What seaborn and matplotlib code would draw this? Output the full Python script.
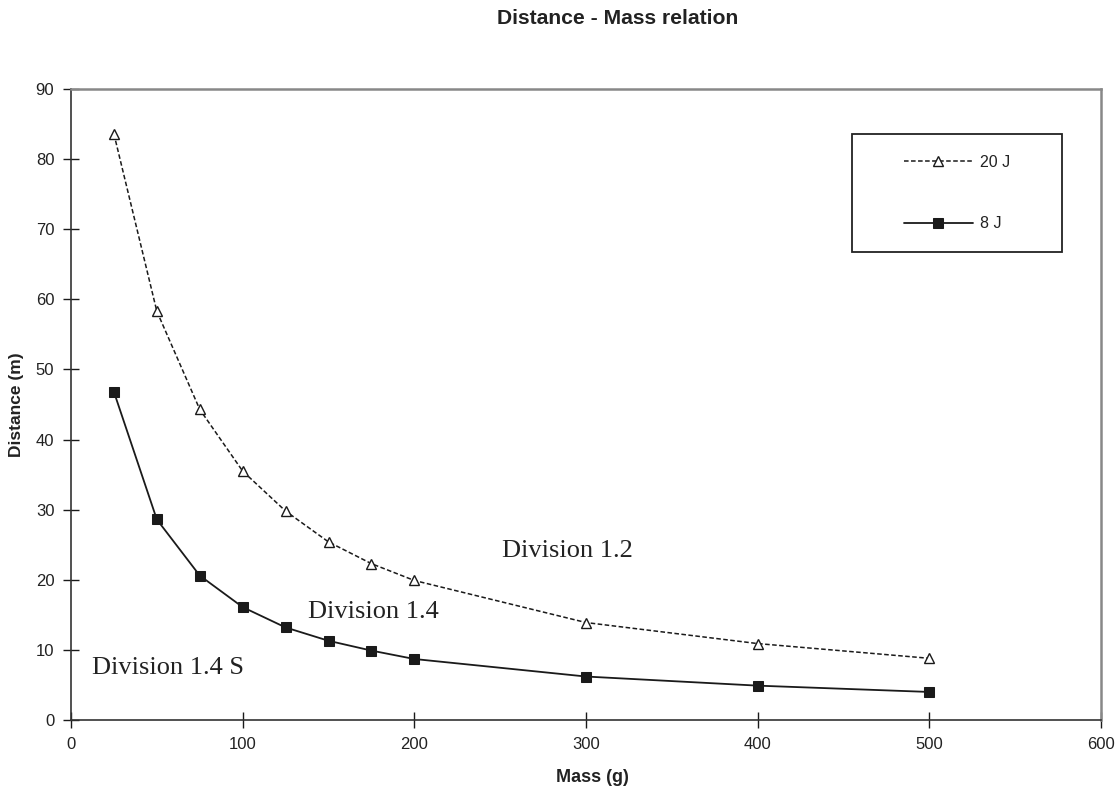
import matplotlib
matplotlib.use("Agg")
import matplotlib.pyplot as plt
import seaborn as sns
import pandas as pd
from matplotlib.patches import Rectangle

mass = [25, 50, 75, 100, 125, 150, 175, 200, 300, 400, 500]
dist_20j = [83.6, 58.3, 44.3, 35.5, 29.8, 25.4, 22.3, 19.9, 13.9, 10.9, 8.8]
dist_8j = [46.8, 28.6, 20.6, 16.1, 13.2, 11.3, 9.9, 8.7, 6.2, 4.9, 4.0]
series_labels = ["20 J", "8 J"]
x_ticks = [0, 100, 200, 300, 400, 500, 600]
y_ticks = [0, 10, 20, 30, 40, 50, 60, 70, 80, 90]
annotations = [("Division 1.2", 251, 24.1), ("Division 1.4", 138, 15.4), ("Division 1.4 S", 12.2, 7.4)]

sns.set_theme(style="white")
plt.rcParams["font.family"] = ["Liberation Sans", "DejaVu Sans"]

W, H = 1118, 792
fig = plt.figure(figsize=(W / 100, H / 100), dpi=100)
ax = fig.add_axes([71 / W, 1 - 720 / H, (1101 - 71) / W, (720 - 89) / H])

ink = "#1a1a1a"
sns.lineplot(x=mass, y=dist_20j, ax=ax, color=ink, linewidth=1.1, linestyle=(0, (3, 1.6)),
             marker="^", markersize=6.5, markerfacecolor="white", markeredgecolor=ink,
             markeredgewidth=1.0, label=series_labels[0])
sns.lineplot(x=mass, y=dist_8j, ax=ax, color=ink, linewidth=1.3,
             marker="s", markersize=6.8, markerfacecolor=ink, markeredgecolor=ink,
             label=series_labels[1])

ax.set_xlim(0, 600)
ax.set_ylim(0, 90)
ax.set_xticks(x_ticks)
ax.set_yticks(y_ticks)
ax.tick_params(axis="both", direction="inout", length=12, width=1.0, colors=ink,
               labelsize=12, pad=6, labelcolor="#222222")
ax.tick_params(axis="both", which="both", bottom=True, left=True)

for s in ["left", "bottom"]:
    ax.spines[s].set_color("#333333")
    ax.spines[s].set_linewidth(1.2)
for s in ["top", "right"]:
    ax.spines[s].set_color("#888888")
    ax.spines[s].set_linewidth(1.8)
ax.grid(False)

ax.set_xlabel("Mass (g)", fontsize=13, fontweight="bold", color="#222222")
ax.xaxis.set_label_coords((592 - 71) / 1030, (720 - 777) / 631)
ax.xaxis.label.set_va("center")
ax.set_ylabel("Distance (m)", fontsize=12.5, fontweight="bold", color="#222222")
ax.yaxis.set_label_coords((17 - 71) / 1030, 0.5)
ax.yaxis.label.set_va("center")

fig.text(618 / W, 1 - 18 / H, "Distance - Mass relation", ha="center", va="center",
         fontsize=15.2, fontweight="bold", color="#222222")

for txt, xv, yv in annotations:
    ax.text(xv, yv, txt, fontsize=19, family=["Liberation Serif", "DejaVu Serif"],
            ha="left", va="center", color="#222222")

# legend
leg = ax.legend(loc="center left", bbox_to_anchor=(904 / W, 1 - 193 / H),
                bbox_transform=fig.transFigure, frameon=False, fontsize=11.5,
                handlelength=4.3, handletextpad=0.45, labelspacing=2.9,
                borderpad=0, numpoints=1, borderaxespad=0)
for t in leg.get_texts():
    t.set_color("#222222")
fig.patches.append(Rectangle((852 / W, 1 - 252 / H), (1062 - 852) / W, (252 - 134) / H,
                             transform=fig.transFigure, fill=False, edgecolor="#222222",
                             linewidth=1.3, figure=fig))

fig.savefig("out.png", dpi=100)
